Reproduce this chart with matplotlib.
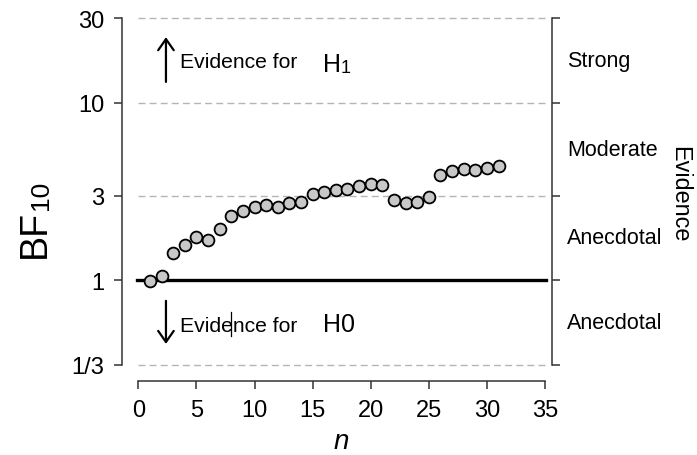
import matplotlib
matplotlib.use("Agg")
import matplotlib.pyplot as plt
from matplotlib.ticker import NullLocator, FixedLocator, FixedFormatter
import numpy as np

# sequential Bayes factors, one per participant
n = list(range(1, 32))
bf10 = [0.99, 1.06, 1.42, 1.59, 1.75, 1.69, 1.95, 2.30, 2.44, 2.57,
        2.64, 2.57, 2.71, 2.77, 3.05, 3.16, 3.22, 3.28, 3.40, 3.50,
        3.43, 2.83, 2.74, 2.77, 2.94, 3.90, 4.13, 4.22, 4.16, 4.31, 4.40]

y_ticks = [1/3, 1, 3, 10, 30]
y_ticklabels = ["1/3", "1", "3", "10", "30"]
x_ticks = [0, 5, 10, 15, 20, 25, 30, 35]
evidence_labels = ["Anecdotal", "Anecdotal", "Moderate", "Strong"]

narrow = ["Liberation Sans Narrow", "Liberation Sans", "DejaVu Sans"]
regular = ["Liberation Sans", "DejaVu Sans"]
plt.rcParams["font.family"] = narrow

fig = plt.figure(figsize=(6.97, 4.56), dpi=100)
ax = fig.add_axes([138.3 / 697, 1 - 366 / 456, 406.7 / 697, 347 / 456])
ax.set_yscale("log")
ax.set_xlim(0, 35)
ax.set_ylim(1/3, 30)

spine_col = "#333333"
# reference lines
for yv in [1/3, 3, 10, 30]:
    ax.plot([0, 35], [yv, yv], color="#b5b5b5", lw=1, ls=(0, (5, 3)), zorder=1, clip_on=False)
ax.plot([-0.1, 35.05], [1, 1], color="black", lw=2.4, zorder=2, clip_on=False)

ax.plot(n, bf10, "o", ms=8.5, mfc="#c8c8c8", mec="black", mew=1.3, zorder=3, clip_on=False)

# spines / ticks
for s in ["top", "right"]:
    ax.spines[s].set_visible(False)
ax.spines["left"].set_position(("outward", 11.5))
ax.spines["bottom"].set_position(("outward", 11.5))
ax.spines["left"].set_bounds(1/3, 30)
ax.spines["bottom"].set_bounds(0, 35)
for s in ["left", "bottom"]:
    ax.spines[s].set_color(spine_col)
    ax.spines[s].set_linewidth(1.1)

ax.yaxis.set_major_locator(FixedLocator(y_ticks))
ax.yaxis.set_major_formatter(FixedFormatter(y_ticklabels))
ax.yaxis.set_minor_locator(NullLocator())
ax.set_xticks(x_ticks)
ax.tick_params(axis="both", direction="out", length=6, width=1.1, color=spine_col,
               labelsize=17, pad=7)

# right evidence axis
ax2 = ax.twinx()
ax2.set_yscale("log")
ax2.set_ylim(1/3, 30)
for s in ["top", "left", "bottom"]:
    ax2.spines[s].set_visible(False)
ax2.spines["right"].set_position(("outward", 5))
ax2.spines["right"].set_bounds(1/3, 30)
ax2.spines["right"].set_color(spine_col)
ax2.spines["right"].set_linewidth(1.1)
ax2.yaxis.set_major_locator(FixedLocator(y_ticks))
ax2.yaxis.set_major_formatter(FixedFormatter([""] * len(y_ticks)))
ax2.yaxis.set_minor_locator(NullLocator())
ax2.tick_params(axis="y", direction="out", length=6, width=1.1, color=spine_col)

ytr = ax.get_yaxis_transform()
for lo, hi, lab in zip(y_ticks[:-1], y_ticks[1:], evidence_labels):
    ax.text(1.054, np.sqrt(lo * hi), lab, transform=ytr, ha="left", va="center", fontsize=15.5)
ax.text(1.33, 0.495, "Evidence", transform=ax.transAxes, rotation=270,
        ha="center", va="center", fontsize=16.8, family=regular)

# axis labels
ax.text(0.5, -0.22, "n", transform=ax.transAxes, ha="center", va="center",
        fontsize=20, style="italic", family=regular)
bf = ax.text(-0.21, 0.311, "BF", transform=ax.transAxes, rotation=90,
             ha="right", va="bottom", fontsize=27, family=regular)
ax.annotate("10", xy=(1, 1), xycoords=bf, rotation=90, ha="right", va="bottom",
            fontsize=19, family=regular)

# evidence direction annotations
arrow = dict(arrowstyle="->, head_length=0.4, head_width=0.28", lw=1.6,
             color="black", shrinkA=0, shrinkB=0, mutation_scale=20)
ax.annotate("", xy=(2.38, 23.4), xytext=(2.38, 13.1), arrowprops=arrow)
ax.annotate("", xy=(2.38, 0.438), xytext=(2.38, 0.766), arrowprops=arrow)
ax.text(3.6, 15.9, "Evidence for", fontsize=15.2, va="baseline", ha="left")
ax.text(3.6, 0.52, "Evidence for", fontsize=15.2, va="baseline", ha="left")
h1 = ax.text(15.9, 15.1, "H", fontsize=18, va="baseline", ha="left", family=regular)
ax.annotate("1", xy=(1, 0), xycoords=h1, fontsize=13, va="bottom", ha="left", family=regular)
ax.text(15.9, 0.52, "H0", fontsize=18, va="baseline", ha="left", family=regular)
ax.plot([7.98, 7.98], [0.484, 0.665], color="black", lw=0.9)

fig.savefig("out.png", dpi=100)
